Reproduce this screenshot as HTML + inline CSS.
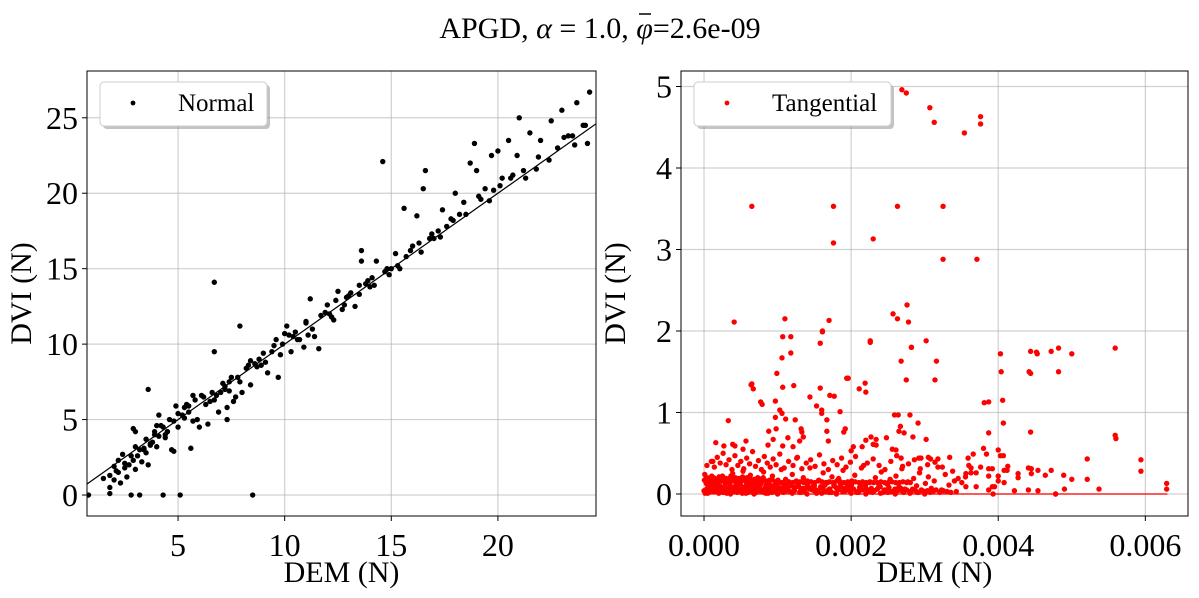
<!DOCTYPE html>
<html><head><meta charset="utf-8"><style>
body{margin:0;background:#fff;}
svg{display:block;font-family:"Liberation Serif","DejaVu Serif",serif;}
</style></head><body>
<svg id="c" width="1199" height="598" xmlns="http://www.w3.org/2000/svg">
<text x="600" y="38" text-anchor="middle" font-size="30">APGD, <tspan font-style="italic">α</tspan> = 1.0, <tspan font-style="italic">φ</tspan>=2.6e-09</text>
<line x1="639" x2="651" y1="14" y2="14" stroke="#000" stroke-width="1.5"/>
</svg>
<script>
// ---- Left panel data (Normal) ----
const normalDEM=[0.8,1.8,1.8,1.8,2,2.2,2.3,2.5,2.6,2.8,2.7,2.9,3,3.1,3.2,3.3,3.4,3.5,3.6,3.6,2.9,3.0,3.8,3.9,4,4.1,4.2,4.3,4.4,4.5,4.6,4.7,4.8,4.9,5,5.1,5.2,5.4,5.5,5.6,5.8,5.9,6.0,6.2,6.4,6.6,6.7,6.7,6.9,7.0,7.2,7.3,7.4,7.6,7.8,7.9,8.0,8.2,8.4,8.5,8.6,8.8,9.0,9.2,9.4,9.6,9.7,10,10.1,10.3,10.5,10.7,10.9,11,11.2,11.4,11.6,11.9,12,12.3,12.5,12.7,13,13.3,13.6,13.6,13.8,14,14.3,14.6,14.7,15,15.2,15.6,15.7,16,16.2,16.5,16.6,16.9,17,17.4,17.8,18,18.4,18.7,18.9,19,19.4,19.7,20,20.2,20.5,20.9,21,21.2,21.5,22,22.5,23,23.3,23.7,24,24.3,24.2,
1.5,2.1,2.4,3.4,3.7,4.0,4.4,5.3,6.3,7.1,7.7,8.3,8.9,9.9,10.4,11.1,12.2,12.9,13.5,14.1,14.9,15.4,16.3,17.2,17.6,18.2,19.2,19.8,20.6,21.8,22.8,23.5,
2.0,2.2,2.5,2.8,3.0,3.2,3.5,3.7,3.9,4.1,4.3,4.5,4.8,5.0,5.3,5.5,5.7,6.1,6.5,6.8,7.2,7.5,7.9,8.4,8.7,9.1,9.5,9.8,10.2,10.6,11.0,11.3,11.7,12.1,12.4,12.8,13.1,13.5,13.9,14.2,14.8,15.3,15.9,16.4,16.8,17.3,17.9,18.5,19.1,19.6,20.1,20.7,21.3,21.9,22.4,23.1,23.6,24.1,6.7,7.4,7.3,5.7];
const normalDVI=[0,1.3,0.5,0.1,1,1.5,0.8,1.8,1.2,0,2,2.3,1.7,2.6,0,2.2,3,2.8,2,7,4.4,4.2,3.5,4,3.2,5.3,4.6,0,3.8,4.2,5,3,2.9,5.9,4.5,0,5.3,6,5.5,3.1,6.3,5,4.5,6.5,4.7,6.8,14.1,9.5,5.5,6.8,7.2,5.0,7.5,6.2,7.8,11.2,6.8,8.4,7.3,0,8.7,9.0,9.4,8.1,9.5,10.3,7.8,10.7,11.2,9.5,10.8,10.3,9.8,11.5,13,10.5,9.7,12.1,12.6,11.6,13.5,12.3,13.2,12.5,16.2,15.5,14,13.8,15.5,22.1,14.8,15,16,19,15.8,16.5,18.5,20.3,21.5,17.3,17,18.9,18.3,20,19.4,22,23.3,21.5,20.3,22.5,22.8,21,23.5,22.5,25,21.5,24,23.5,24.8,25.5,23.8,26,24.5,26.7,23.3,
1.1,1.6,2.7,3.1,3.4,4.6,4.0,5.8,6.0,7.4,6.5,8.6,8.6,10.0,10.5,10.6,11.8,13.1,13.9,14.4,14.6,15.0,16.7,17.5,17.8,18.6,19.6,20.2,21.0,21.6,23.0,23.8,
1.9,2.3,2.1,2.6,3.2,3.0,3.7,3.3,4.2,3.9,4.5,4.2,4.9,5.4,5.1,5.9,4.9,6.6,6.2,6.6,7.0,7.8,7.5,8.9,8.5,8.8,9.9,9.3,10.6,10.3,11.4,11.0,11.9,12.0,12.9,12.6,13.4,13.3,14.2,13.9,15.0,15.2,16.2,16.1,17.0,17.1,18.2,18.6,19.8,19.5,20.5,21.2,21.0,22.4,22.2,23.7,23.2,24.5,6.3,6.9,5.8,6.6];
const normalXTicks=[5,10,15,20];
const normalYTicks=[0,5,10,15,20,25];
// ---- Right panel data (Tangential), DEM in units of 1e-4 N ----
const tanDEM=[26.9,27.5,30.7,31.3,35.4,37.6,37.6,6.5,17.6,17.6,26.3,32.5,23.0,32.5,37.1,4.1,11.0,17.0,25.7,26.3,27.6,27.8,16.1,22.6,28.2,31.6,31.4,40.3,44.4,45.2,48.2,44.2,40.4,10.7,6.4,19.6,15.8,21.9,38.1,
1.6,2.7,3.3,3.9,4.2,5.7,5.3,6.5,6.7,7.7,7.9,9.7,9.9,10.6,11.8,11.8,10.7,12.2,9.7,8.8,8.7,9.4,9.8,10.3,10.6,11.1,11.4,10.7,12.1,12.6,12.4,13.2,13.3,13.0,13.5,14.4,15.3,15.8,16.1,16.0,16.0,16.7,16.7,16.9,17.1,17.7,18.5,19.0,19.2,19.4,20.3,20.0,21.1,22.0,22.6,21.5,22.0,22.7,23.0,23.4,23.4,24.8,25.9,26.4,26.5,26.7,27.2,28.0,28.2,28.4,29.1,30.2,30.2,27.5,26.8,25.6,26.1,26.8,29.2,29.5,30.5,30.8,31.8,35.9,36.6,38.0,38.4,38.7,38.7,40.0,40.3,40.7,40.6,40.7,44.4,44.4,45.3,48.2,47.2,50.0,55.9,55.9,56.0,59.4,59.4,62.9,62.9,53.7,52.1,52.1,50.0,48.9,47.8,47.8,49.0,47.2,46.4,45.4,45.4,44.1,44.1,44.5,44.5,42.7,42.7,42.2,41.3,41.2,40.8,40.8,40.0,40.0,39.5,39.2,39.2,39.3,38.7,38.7,38.7,37.6,37.0,37.0,36.3,36.3,35.6,36.0,35.6,
0.1,0.3,0.5,0.7,0.9,1.1,1.3,1.5,1.7,1.9,2.1,2.3,2.5,2.7,2.9,3.1,3.3,3.5,3.7,3.9,4.1,4.3,4.5,4.7,4.9,5.1,5.3,5.5,5.7,5.9,6.1,6.3,6.5,6.7,6.9,7.1,7.3,7.5,7.7,7.9,8.1,8.3,8.5,8.7,8.9,9.1,9.3,9.5,9.7,9.9,10.2,10.5,10.8,11.1,11.4,11.7,12.0,12.3,12.6,12.9,13.2,13.5,13.8,14.1,14.4,14.7,15.0,15.3,15.6,15.9,16.2,16.5,16.8,17.1,17.4,17.7,18.0,18.3,18.6,18.9,19.2,19.5,19.8,20.1,20.5,20.9,21.3,21.7,22.1,22.5,22.9,23.3,23.7,24.1,24.5,24.9,25.3,25.7,26.1,26.5,26.9,27.3,27.7,28.1,28.5,28.9,29.3,29.7,30.1,30.5,30.9,31.3,31.8,32.3,32.8,33.3,33.8,34.3,
0.2,0.6,1.0,1.4,1.8,2.2,2.6,3.0,3.4,3.8,4.2,4.6,5.0,5.4,5.8,6.2,6.6,7.0,7.4,7.8,8.2,8.6,9.0,9.4,9.8,10.3,10.9,11.5,12.1,12.7,13.3,13.9,14.5,15.1,15.7,16.3,16.9,17.5,18.1,18.7,19.3,19.9,20.6,21.4,22.2,23.0,23.8,24.6,25.4,26.2,27.0,27.8,28.6,29.4,30.4,31.4,32.4,33.4,
0.4,1.2,2.0,2.8,3.6,4.4,5.2,6.0,6.8,7.6,8.4,9.2,10.0,11.0,12.0,13.0,14.0,15.0,16.0,17.0,18.0,19.0,20.0,21.0,22.0,23.0,24.0,25.0,26.0,27.0,28.0,29.0,30.0,
0.0,0.15,0.35,0.55,0.75,0.95,1.15,1.35,1.55,1.75,1.95,2.15,2.35,2.55,2.75,2.95,3.15,3.35,3.55,3.75,3.95,4.15,4.35,4.55,4.75,4.95,5.15,5.35,5.55,5.75,5.95,6.15,6.35,6.55,6.75,6.95,7.15,7.35,7.55,7.75,7.95,8.15,8.35,8.55,8.75,8.95,9.15,9.35,9.55,9.75,9.95,10.15,10.45,10.75,11.05,11.35,11.65,11.95,12.25,12.55,12.85,13.15,13.45,13.75,14.05,14.35,14.65,14.95,15.25,15.55,15.85,16.15,16.45,16.75,17.05,17.35,17.65,17.95,18.25,18.55,18.85,19.15,19.45,19.75,20.05,20.35,20.75,21.15,21.55,21.95,22.35,22.75,23.15,23.55,23.95,24.35,24.75,25.15,25.55,25.95,26.35,26.75,27.15,27.55,27.95,28.35,28.75,29.15,29.55,29.95,30.35,30.75,31.15,31.55,32.05,32.55,33.05,33.55,34.05,34.55,35.05,35.55,
0.05,0.25,0.45,0.65,0.85,1.05,1.25,1.45,1.65,1.85,2.05,2.25,2.45,2.65,2.85,3.05,3.25,3.45,3.65,3.85,4.05,4.25,4.45,4.65,4.85,5.05,5.25,5.45,5.65,5.85,6.05,6.25,6.45,6.65,6.85,7.05,7.25,7.45,7.65,7.85,8.05,8.45,8.85,9.25,9.65,10.05,10.55,11.05,11.55,12.05,12.55,13.05,13.55,14.05,14.55,15.05,15.55,16.05,16.55,17.05,17.55,18.05,18.55,19.05,19.55,20.05,20.55,21.05,21.55,22.05,22.55,23.05,23.55,24.05,24.55,25.05,25.55,26.05,26.55,27.05,27.55,28.05,28.55,29.05,29.55,30.05];
const tanDVI=[4.96,4.92,4.74,4.56,4.43,4.63,4.54,3.53,3.53,3.08,3.53,3.53,3.13,2.88,2.88,2.11,2.15,2.13,2.21,2.15,2.32,2.11,2.0,1.88,1.8,1.63,1.4,1.72,1.75,1.74,1.79,1.5,1.5,1.93,1.34,1.42,1.3,1.36,1.12,
0.63,0.59,0.9,0.61,0.59,0.65,0.55,1.35,1.29,1.13,1.1,1.14,1.48,1.67,1.93,1.73,1.31,1.33,0.94,0.77,0.6,0.67,0.8,1.03,0.99,0.92,0.69,0.59,0.58,0.44,0.91,0.8,0.76,0.65,0.7,1.19,1.08,1.85,1.99,1.03,0.99,0.91,0.77,0.65,1.21,1.2,1.01,0.76,0.8,1.42,0.58,0.53,1.29,1.25,1.86,0.58,0.66,0.7,0.61,0.67,0.6,0.69,0.97,0.97,0.77,0.83,0.75,0.97,1.8,0.7,0.87,1.88,0.67,1.4,1.63,0.55,0.54,0.44,0.44,0.44,0.45,0.43,0.43,0.44,0.49,0.56,0.49,0.75,1.13,0.54,0.47,0.47,1.15,0.87,0.76,1.48,1.72,1.5,1.75,1.72,1.79,0.72,0.68,0.42,0.28,0.06,0.13,0.06,0.43,0.18,0.18,0.23,0,0,0.06,0.29,0.23,0.29,0.04,0.05,0.32,0.25,0.31,0.25,0.2,0.04,0.34,0.29,0.14,0.29,0.22,0.16,0.09,0.31,0.09,0,0.31,0.22,0.05,0.33,0.26,0.09,0.32,0.26,0.09,0.35,0.25,0.24,0.13,0.01,
0.02,0.12,0.05,0.2,0.08,0.03,0.15,0.1,0.04,0.22,0.06,0.13,0.01,0.18,0.09,0.03,0.25,0.07,0.14,0.02,0.11,0.19,0.05,0.28,0.08,0.01,0.16,0.04,0.23,0.1,0.06,0.13,0.02,0.2,0.09,0.15,0.03,0.27,0.07,0.12,0.01,0.17,0.05,0.22,0.1,0.03,0.14,0.08,0.3,0.02,0.18,0.06,0.11,0.24,0.04,0.15,0.09,0.02,0.2,0.07,0.13,0.32,0.05,0.1,0.01,0.17,0.08,0.26,0.03,0.14,0.06,0.21,0.11,0.02,0.19,0.09,0.29,0.04,0.12,0.07,0.16,0.23,0.03,0.1,0.35,0.06,0.14,0.02,0.2,0.08,0.27,0.05,0.12,0.18,0.03,0.22,0.09,0.31,0.06,0.15,0.02,0.19,0.1,0.26,0.04,0.13,0.21,0.07,0.16,0.33,0.05,0.24,0.11,0.28,0.03,0.18,0.08,
0.4,0.33,0.45,0.38,0.5,0.36,0.42,0.3,0.47,0.35,0.4,0.31,0.44,0.37,0.52,0.34,0.41,0.3,0.46,0.38,0.33,0.43,0.36,0.49,0.32,0.4,0.35,0.45,0.31,0.38,0.42,0.34,0.48,0.37,0.3,0.41,0.36,0.44,0.33,0.39,0.46,0.32,0.38,0.43,0.35,0.3,0.4,0.47,0.34,0.37,0.42,0.31,0.36,0.39,0.33,0.45,0.35,0.4,
0.01,0.02,0.0,0.03,0.01,0.02,0.0,0.04,0.01,0.02,0.0,0.03,0.01,0.02,0.0,0.04,0.01,0.02,0.0,0.03,0.01,0.02,0.0,0.04,0.01,0.02,0.0,0.03,0.01,0.02,0.0,0.04,0.01,
0.06,0.09,0.04,0.11,0.07,0.03,0.08,0.12,0.05,0.1,0.06,0.02,0.09,0.13,0.04,0.07,0.11,0.05,0.08,0.03,0.1,0.06,0.12,0.04,0.09,0.07,0.02,0.11,0.05,0.08,0.13,0.03,0.06,0.1,0.04,0.09,0.07,0.12,0.05,0.02,0.08,0.11,0.04,0.06,0.1,0.03,0.09,0.05,0.12,0.07,0.04,0.08,0.11,0.06,0.03,0.1,0.05,0.09,0.13,0.04,0.07,0.02,0.1,0.06,0.08,0.12,0.05,0.03,0.09,0.07,0.11,0.04,0.06,0.02,0.1,0.08,0.05,0.12,0.03,0.07,0.09,0.04,0.11,0.06,0.02,0.08,0.05,0.1,0.03,0.07,0.04,0.06,0.09,0.02,0.05,0.08,0.03,0.06,0.04,0.07,0.02,0.05,0.03,0.06,0.04,0.02,0.05,0.03,0.04,0.02,0.03,0.05,0.02,0.04,0.03,0.02,
0.16,0.19,0.14,0.21,0.17,0.15,0.2,0.18,0.16,0.22,0.14,0.19,0.17,0.15,0.21,0.18,0.16,0.2,0.14,0.19,0.17,0.15,0.22,0.18,0.16,0.2,0.14,0.19,0.17,0.15,0.21,0.18,0.16,0.2,0.14,0.19,0.17,0.15,0.18,0.16,0.14,0.19,0.17,0.15,0.2,0.16,0.14,0.18,0.15,0.17,0.14,0.16,0.15,0.14,0.16,0.15,0.14,0.16,0.15,0.14,0.16,0.15,0.14,0.15,0.14,0.16,0.15,0.14,0.15,0.14,0.15,0.14,0.15,0.14,0.15,0.14,0.14,0.15,0.14,0.14,0.15,0.14,0.14,0.15,0.14,0.14];
const tanXTicks=[0,0.002,0.004,0.006];
const tanXTickLabels=["0.000","0.002","0.004","0.006"];
const tanYTicks=[0,1,2,3,4,5];
const tanFit=[0,63];

const NS="http://www.w3.org/2000/svg";
const svg=document.getElementById('c');
function mk(tag,attrs,parent){const e=document.createElementNS(NS,tag);for(const k in attrs)e.setAttribute(k,attrs[k]);(parent||svg).appendChild(e);return e;}

function panel(o){
  const g=mk('g',{});
  
  
  const sx=v=>o.L+(v-o.x0)/(o.x1-o.x0)*(o.R-o.L);
  const sy=v=>o.B-(v-o.y0)/(o.y1-o.y0)*(o.B-o.T);
  o.xt.forEach((t,i)=>{
    const x=sx(t);
    const gl=mk('line',{x1:x,x2:x,y1:o.T,y2:o.B,stroke:'#b0b0b0','stroke-opacity':0.6,'stroke-width':1.2},g);
    
    
    mk('line',{x1:x,x2:x,y1:o.B,y2:o.B+5,stroke:'#000','stroke-width':1},g);
    const tx=mk('text',{x:x,y:o.B+40,'text-anchor':'middle','font-size':32},g);
    tx.textContent=o.xl?o.xl[i]:String(t);
    
    
  });
  o.yt.forEach(t=>{
    const y=sy(t);
    const gl=mk('line',{x1:o.L,x2:o.R,y1:y,y2:y,stroke:'#b0b0b0','stroke-opacity':0.6,'stroke-width':1.2},g);
    
    
    mk('line',{x1:o.L-5,x2:o.L,y1:y,y2:y,stroke:'#000','stroke-width':1},g);
    const tx=mk('text',{x:o.L-9,y:y+11,'text-anchor':'end','font-size':32},g);
    tx.textContent=String(t);
    
    
  });
  const cp='clip'+o.name;
  const cl=mk('clipPath',{id:cp},g);mk('rect',{x:o.L,y:o.T,width:o.R-o.L,height:o.B-o.T},cl);
  const pg=mk('g',{'clip-path':'url(#'+cp+')'},g);
  const ln=mk('line',{x1:sx(o.fit[0]),y1:sy(o.fitY[0]),x2:sx(o.fit[1]),y2:sy(o.fitY[1]),stroke:o.color,'stroke-width':1.2},pg);
  
  
  o.xs.forEach((v,i)=>{
    const c=mk('circle',{cx:sx(v*o.xs_scale),cy:sy(o.ys[i]),r:2.7,fill:o.color},pg);
    
    
  });
  const fr=mk('rect',{x:o.L,y:o.T,width:o.R-o.L,height:o.B-o.T,fill:'none',stroke:'#000','stroke-width':1},g);
  
  
  const xl=mk('text',{x:(o.L+o.R)/2,y:582,'text-anchor':'middle','font-size':30},g);
  xl.textContent='DEM (N)';
  
  
  const yl=mk('text',{x:0,y:0,'text-anchor':'middle','font-size':30,transform:`translate(${o.L-56},${(o.T+o.B)/2}) rotate(-90)`},g);
  yl.textContent='DVI (N)';
  
  
  const lg=mk('g',{},g);
  
  
  mk('rect',{x:o.L+16,y:85,width:o.lw,height:44,rx:4,fill:'#888','fill-opacity':0.5},lg);
  mk('rect',{x:o.L+13,y:82,width:o.lw,height:44,rx:4,fill:'#fff',stroke:'#ccc'},lg);
  mk('circle',{cx:o.L+46,cy:103,r:2.4,fill:o.color},lg);
  const lt=mk('text',{x:o.L+91,y:111,'font-size':25},lg);
  lt.textContent=o.label;
  
  
}
panel({name:'normal-panel',L:87,R:596,T:71,B:516,x0:0.73,x1:24.6,y0:-1.39,y1:28.1,xt:normalXTicks,yt:normalYTicks,xs:normalDEM,ys:normalDVI,xs_scale:1,color:'#000',fit:[0,30],fitY:[0,30],label:'Normal',lw:167});
panel({name:'tangential-panel',L:681,R:1188,T:71,B:516,x0:-0.000313,x1:0.00658,y0:-0.27,y1:5.19,xt:tanXTicks,xl:tanXTickLabels,yt:tanYTicks,xs:tanDEM,ys:tanDVI,xs_scale:1e-4,color:'#ff0000',fit:[tanFit[0]*1e-4,tanFit[1]*1e-4],fitY:[0,0],label:'Tangential',lw:197});
</script>
</body></html>
